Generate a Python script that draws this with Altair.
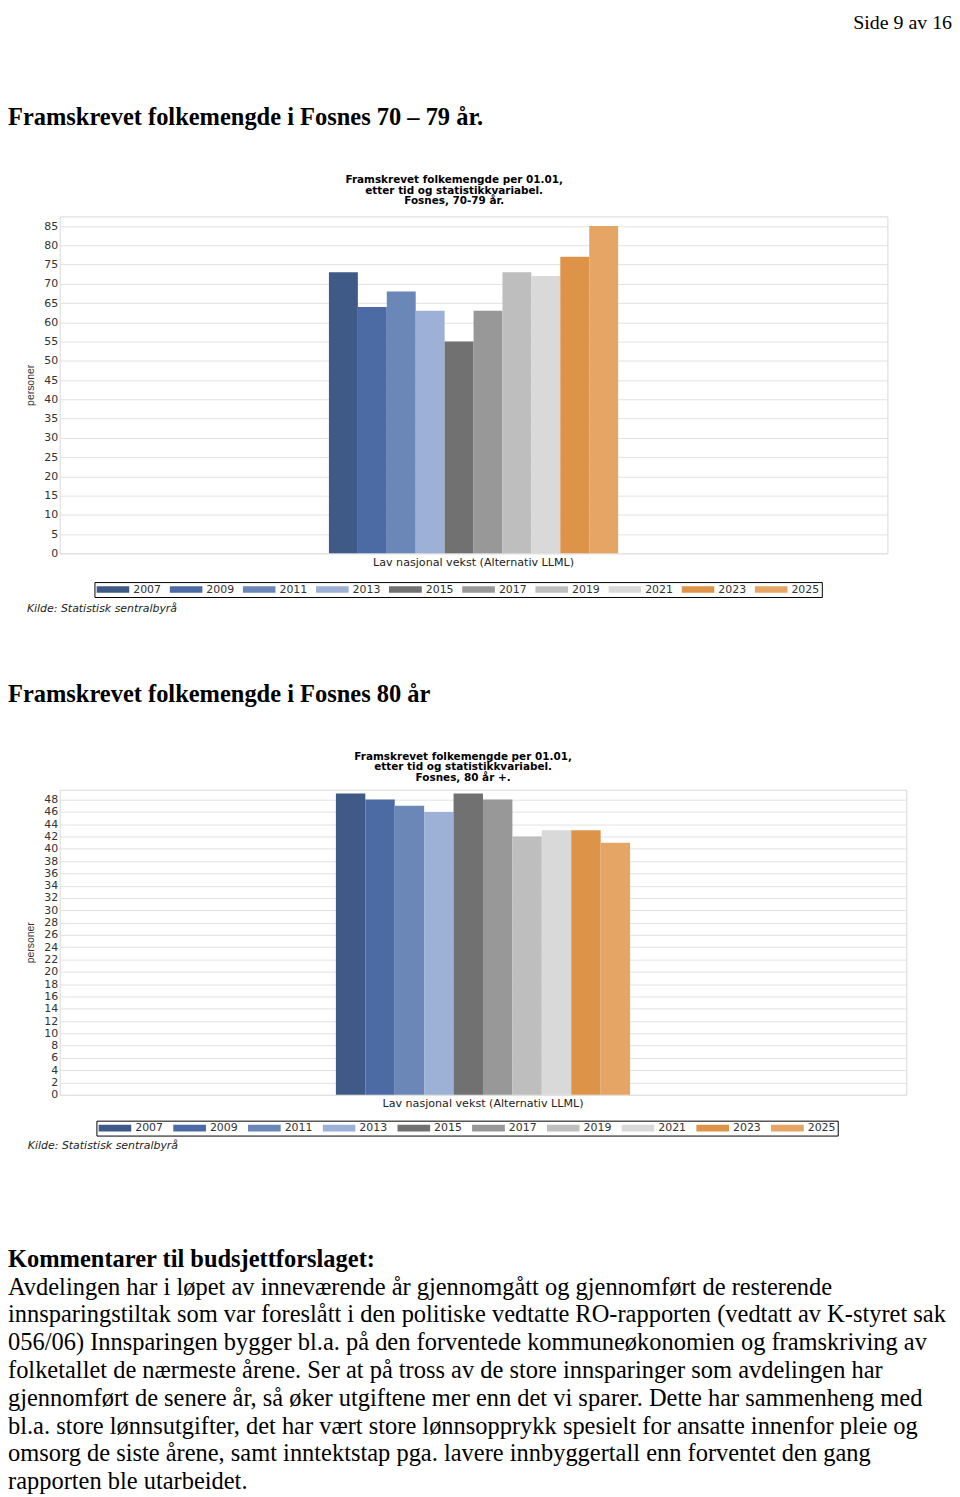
import altair as alt
import pandas as pd

# ---------------- data ----------------
years = ["2007", "2009", "2011", "2013", "2015", "2017", "2019", "2021", "2023", "2025"]
values_70_79 = [73, 64, 68, 63, 55, 63, 73, 72, 77, 85]
values_80 = [49, 48, 47, 46, 49, 48, 42, 43, 43, 41]
year_colors = ["#3f5a87", "#4c6aa3", "#6b87b8", "#9db0d6", "#717171",
               "#989898", "#bebebe", "#d9d9d9", "#dd9448", "#e4a565"]
scenario = "Lav nasjonal vekst (Alternativ LLML)"
ticks_70_79 = list(range(0, 90, 5))
ticks_80 = list(range(0, 50, 2))

page_header = "Side 9 av 16"
heading_1 = "Framskrevet folkemengde i Fosnes 70 \u2013 79 år."
heading_2 = "Framskrevet folkemengde i Fosnes 80 år"
chart_title_1 = ["Framskrevet folkemengde per 01.01,", "etter tid og statistikkvariabel.", "Fosnes, 70-79 år."]
chart_title_2 = ["Framskrevet folkemengde per 01.01,", "etter tid og statistikkvariabel.", "Fosnes, 80 år +."]
source_note = "Kilde: Statistisk sentralbyrå"
y_title = "personer"
comment_heading = "Kommentarer til budsjettforslaget:"
comment_lines = [
    "Avdelingen har i løpet av inneværende år gjennomgått og gjennomført de resterende",
    "innsparingstiltak som var foreslått i den politiske vedtatte RO-rapporten (vedtatt av K-styret sak",
    "056/06) Innsparingen bygger bl.a. på den forventede kommuneøkonomien og framskriving av",
    "folketallet de nærmeste årene. Ser at på tross av de store innsparinger som avdelingen har",
    "gjennomført de senere år, så øker utgiftene mer enn det vi sparer. Dette har sammenheng med",
    "bl.a. store lønnsutgifter, det har vært store lønnsopprykk spesielt for ansatte innenfor pleie og",
    "omsorg de siste årene, samt inntektstap pga. lavere innbyggertall enn forventet den gang",
    "rapporten ble utarbeidet.",
]

SERIF = "Liberation Serif"
SANS = "DejaVu Sans"
NO_STROKE = {"stroke": None}
BODY = 24.6


def text(s, x, y, size, font=SERIF, weight="normal", align="left", style="normal",
         line_height=None, color="#000000"):
    kw = dict(font=font, fontSize=size, fontWeight=weight, align=align,
              baseline="alphabetic", fontStyle=style, color=color)
    if line_height is not None:
        kw["lineBreak"] = "\n"
        kw["lineHeight"] = line_height
    return alt.Chart(pd.DataFrame({"t": [s]})).mark_text(**kw).encode(
        x=alt.value(x), y=alt.value(y), text="t:N")


def bar_chart(values, ticks, ymax, width, height, pad_outer, leg_x, leg_y, col_pad):
    df = pd.DataFrame({"scenario": [scenario] * len(years), "year": years, "value": values})
    return alt.Chart(df).mark_bar().encode(
        x=alt.X("scenario:N",
                scale=alt.Scale(paddingInner=0, paddingOuter=pad_outer),
                axis=alt.Axis(title=None, labelAngle=0, ticks=False, tickSize=0, domain=False,
                              grid=False, labelFont=SANS, labelFontSize=11.2, labelLimit=400,
                              labelColor="#222222", labelPadding=3)),
        xOffset=alt.XOffset("year:N", sort=years,
                            scale=alt.Scale(paddingInner=0, paddingOuter=0)),
        y=alt.Y("value:Q", scale=alt.Scale(domain=[0, ymax], nice=False, zero=True),
                axis=alt.Axis(title=y_title, values=ticks, ticks=False, domain=False,
                              grid=True, gridColor="#e2e2e2", gridWidth=1,
                              labelFont=SANS, labelFontSize=11, labelColor="#333333",
                              labelPadding=2, titleFont="Liberation Sans",
                              titleFontSize=10.5, titleFontWeight="normal",
                              titleColor="#333333", titlePadding=8)),
        color=alt.Color("year:N", sort=years,
                        scale=alt.Scale(domain=years, range=year_colors),
                        legend=alt.Legend(orient="none", legendX=leg_x, legendY=leg_y,
                                          direction="horizontal", columns=10, title=None,
                                          symbolType="M-1,-0.2H1V0.2H-1Z", symbolSize=1089,
                                          symbolStrokeWidth=0, symbolOpacity=1,
                                          clipHeight=11,
                                          labelFont=SANS, labelFontSize=11,
                                          labelColor="#333333", labelOffset=4,
                                          columnPadding=col_pad, padding=2,
                                          strokeColor="#000000", fillColor="#ffffff")),
    ).properties(width=width, height=height, view={"stroke": "#d8d8d8", "fill": "#ffffff"})


# ---------------- panels ----------------
t1 = alt.layer(
    text(page_header, 898, 16, 20, align="right"),
    text(heading_1, -52, 113, BODY, weight="bold"),
    text("\n".join(chart_title_1), 397, 171, 10.5, font=SANS, weight="bold",
         align="center", line_height=11),
).properties(width=850, height=204, view=NO_STROKE)

c1 = bar_chart(values_70_79, ticks_70_79, 87.5, 833, 339, 0.931, 35, 368, 8.6)

t2 = alt.layer(
    text(source_note, -33, 14, 11, font=SANS, style="italic", color="#222222"),
    text(heading_2, -52, 105, BODY, weight="bold"),
    text("\n".join(chart_title_2), 406, 163, 10.5, font=SANS, weight="bold",
         align="center", line_height=10.5),
).properties(width=850, height=192, view=NO_STROKE)

c2 = bar_chart(values_80, ticks_80, 49.6, 852, 307, 0.939, 37, 333, 10.2)

t3 = alt.layer(
    text(source_note, -32, 13, 11, font=SANS, style="italic", color="#222222"),
    text(comment_heading, -52, 131, BODY, weight="bold"),
    text("\n".join(comment_lines), -52, 159, BODY, line_height=28),
).properties(width=850, height=358, view=NO_STROKE)

chart = alt.vconcat(t1, c1, t2, c2, t3, spacing=0).resolve_scale(
    x="independent", y="independent", color="independent", xOffset="independent"
).resolve_legend(color="independent").properties(padding=0).configure_view(stroke=None)

chart.save("out.html", embed_options={"renderer": "svg", "actions": False})
